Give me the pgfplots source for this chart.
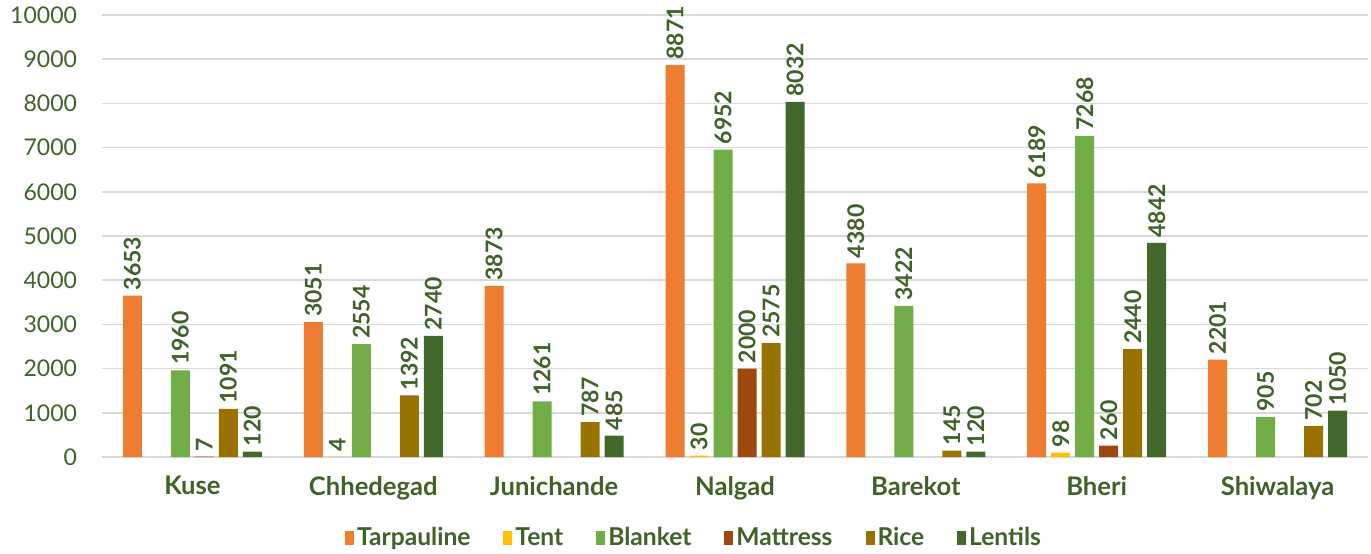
\documentclass[border=0pt]{standalone}
\usepackage{pgfplots}
\pgfplotsset{compat=1.18}
\usepackage{fontspec}
\setmainfont{Lato}
\definecolor{txt}{HTML}{3F6229}
\definecolor{cTarp}{HTML}{ED7D31}
\definecolor{cTent}{HTML}{FFC000}
\definecolor{cBlanket}{HTML}{70AD47}
\definecolor{cMatt}{HTML}{9E480E}
\definecolor{cRice}{HTML}{997300}
\definecolor{cLent}{HTML}{43682B}
\begin{document}
\begin{tikzpicture}
\begin{axis}[
  scale only axis, width=633pt, height=221pt,
  ymin=0, ymax=10000, ytick={0,1000,...,10000},
  scaled y ticks=false,
  xmin=-0.5, xmax=6.5, xtick={0,...,6},
  xticklabels={Kuse,Chhedegad,Junichande,Nalgad,Barekot,Bheri,Shiwalaya},
  ybar=2.5pt, bar width=9.5pt,
  axis line style={draw=none},
  major tick length=0pt,
  ymajorgrids, grid style={draw=black!15, line width=0.8pt},
  /pgf/number format/.cd, 1000 sep={}, assume math mode=true, /pgfplots/.cd,
  tick label style={font=\fontsize{11.5}{14}\selectfont, text=txt},
  yticklabel style={xshift=-9pt},
  xticklabel style={font=\bfseries\fontsize{12.8}{15}\selectfont, yshift=-6pt},
  nodes near coords,
  nodes near coords style={rotate=90, anchor=west, font=\bfseries\fontsize{11.5}{13}\selectfont, text=txt, inner sep=2.5pt},
  legend style={at={(0.468,-0.183)}, anchor=center, draw=none, legend columns=6,
    font=\bfseries\fontsize{12.3}{14}\selectfont, text=txt,
    nodes={inner sep=1.5pt},
    /tikz/every even column/.append style={column sep=15pt}},
  legend image code/.code={\fill[#1] (0pt,-3.5pt) rectangle (4.5pt,3.5pt);},
]
\addplot[fill=cTarp, draw=none] coordinates {(0,3653) (1,3051) (2,3873) (3,8871) (4,4380) (5,6189) (6,2201)};
\addplot[fill=cTent, draw=none] coordinates {(1,4) (3,30) (5,98)};
\addplot[fill=cBlanket, draw=none] coordinates {(0,1960) (1,2554) (2,1261) (3,6952) (4,3422) (5,7268) (6,905)};
\addplot[fill=cMatt, draw=none] coordinates {(0,7) (3,2000) (5,260)};
\addplot[fill=cRice, draw=none] coordinates {(0,1091) (1,1392) (2,787) (3,2575) (4,145) (5,2440) (6,702)};
\addplot[fill=cLent, draw=none] coordinates {(0,120) (1,2740) (2,485) (3,8032) (4,120) (5,4842) (6,1050)};
\legend{Tarpauline,Tent,Blanket,Mattress,Rice,Lentils}
\end{axis}
\pgfresetboundingbox
\path (current axis.south west) +(-51pt,228.5pt) +(634.5pt,-48pt);
\end{tikzpicture}
\end{document}
